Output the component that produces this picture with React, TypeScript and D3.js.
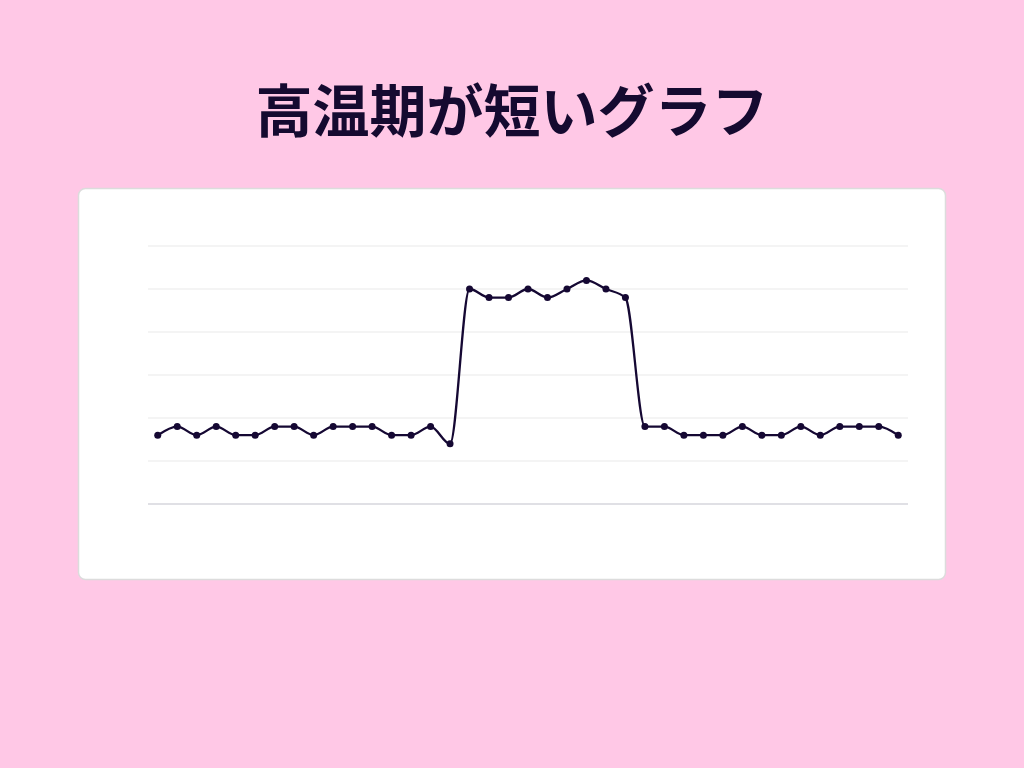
import { useEffect, useRef } from 'react'
import * as d3 from 'd3'

// 基礎体温っぽい推移 (単位は目盛り 10 刻みの相対値)
const days = d3.range(1, 40).map(d => `${d}`)
const temps = [
  16, 18, 16, 18, 16, 16, 18, 18, 16, 18, 18, 18, 16, 16, 18, 14,
  50, 48, 48, 50, 48, 50, 52, 50, 48,
  18, 18, 16, 16, 16, 18, 16, 16, 18, 16, 18, 18, 18, 16
]
const yTicks = [0, 10, 20, 30, 40, 50, 60]

const title = '高温期が短いグラフ'

const W = 1024
const H = 768
const card = { x: 78, y: 188, w: 868, h: 392 }
const plot = { left: 148, right: 908, top: 246, bottom: 504 }

export default function App() {
  const svgRef = useRef<SVGSVGElement>(null)

  useEffect(() => {
    if (!svgRef.current) return
    const svg = d3.select(svgRef.current)
    svg.selectAll('*').remove()

    svg.append('rect')
      .attr('width', W)
      .attr('height', H)
      .attr('fill', '#ffc8e6')

    svg.append('text')
      .attr('x', W / 2)
      .attr('y', 107)
      .attr('text-anchor', 'middle')
      .attr('dominant-baseline', 'central')
      .attr('font-family', '"Noto Sans CJK JP", "Noto Sans", sans-serif')
      .attr('font-weight', 700)
      .attr('font-size', 57)
      .attr('fill', '#150a30')
      .text(title)

    svg.append('rect')
      .attr('x', card.x + 0.5)
      .attr('y', card.y + 0.5)
      .attr('width', card.w - 1)
      .attr('height', card.h - 1)
      .attr('rx', 7)
      .attr('fill', '#ffffff')
      .attr('stroke', '#dcdcdc')
      .attr('stroke-width', 1.5)

    const x = d3.scalePoint<string>()
      .domain(days)
      .range([plot.left, plot.right])
      .padding(0.5)

    const y = d3.scaleLinear()
      .domain([0, 60])
      .range([plot.bottom, plot.top])

    const g = svg.append('g')

    // grid
    g.selectAll('.grid')
      .data(yTicks)
      .enter().append('line')
      .attr('x1', plot.left)
      .attr('x2', plot.right)
      .attr('y1', d => y(d))
      .attr('y2', d => y(d))
      .attr('stroke', d => (d === 0 ? '#d6d6dc' : '#e9e9e9'))
      .attr('stroke-width', d => (d === 0 ? 1.5 : 1))

    const line = d3.line<number>()
      .x((_, i) => x(days[i]) as number)
      .y(d => y(d))
      .curve(d3.curveMonotoneX)

    g.append('path')
      .datum(temps)
      .attr('fill', 'none')
      .attr('stroke', '#150833')
      .attr('stroke-width', 2.3)
      .attr('stroke-linejoin', 'round')
      .attr('d', line)

    g.selectAll('.dot')
      .data(temps)
      .enter().append('circle')
      .attr('cx', (_, i) => x(days[i]) as number)
      .attr('cy', d => y(d))
      .attr('r', 3.5)
      .attr('fill', '#150833')
  }, [])

  return (
    <svg
      ref={svgRef}
      width={W}
      height={H}
      style={{ position: 'absolute', left: 0, top: 0, display: 'block' }}
    />
  )
}
